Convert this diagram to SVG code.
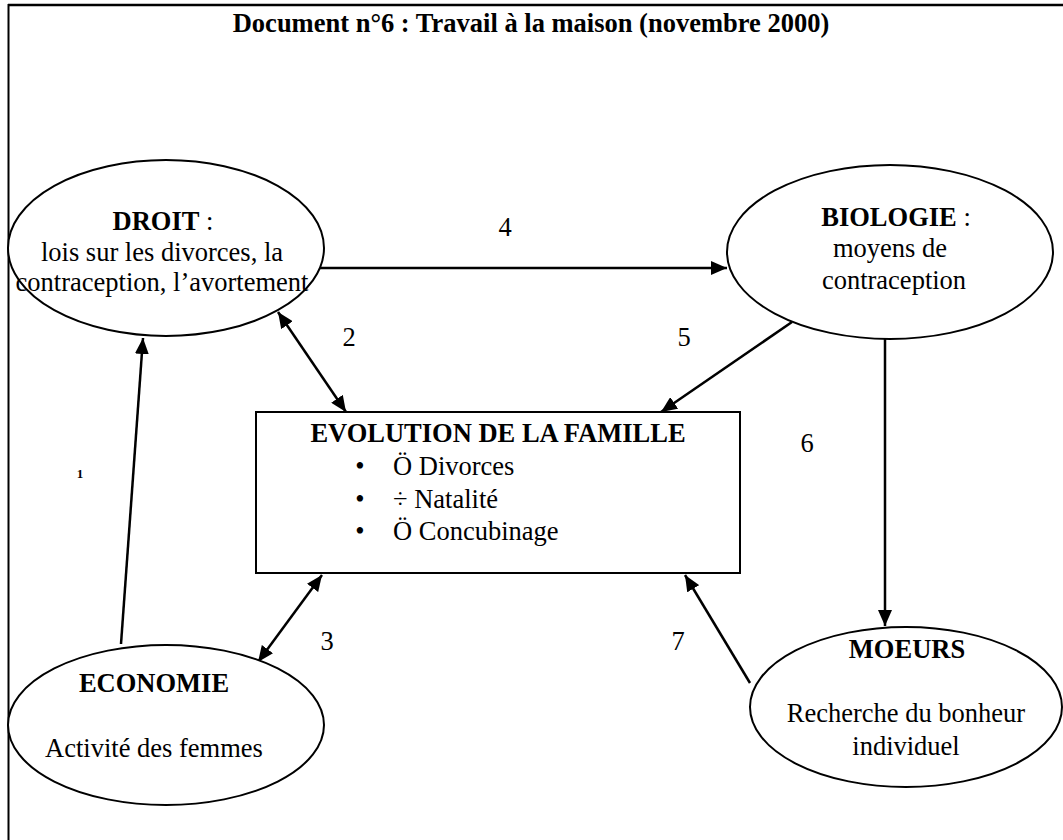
<svg xmlns="http://www.w3.org/2000/svg" width="1063" height="840" viewBox="0 0 1063 840">
  <style>
    .t { font-family: "Liberation Serif", "Times New Roman", serif; font-size: 26.5px; fill: #000; }
    .b { font-weight: bold; }
    .shape { fill: #fff; stroke: #000; stroke-width: 2; }
    .link { fill: none; stroke: #000; stroke-width: 2.5; }
    .frame { stroke: #000; fill: none; }
  </style>
  <defs>
    <marker id="head" viewBox="0 0 16 14" refX="16" refY="7" markerWidth="16" markerHeight="14" markerUnits="userSpaceOnUse" orient="auto-start-reverse">
      <path d="M0,0 L16,7 L0,14 z" fill="#000"/>
    </marker>
  </defs>
  <rect width="1063" height="840" fill="#fff"/>

  <!-- page frame -->
  <g id="frame">
    <line class="frame" x1="8" y1="5" x2="1063" y2="5" stroke-width="2.5"/>
    <line class="frame" x1="8.5" y1="4" x2="8.5" y2="840" stroke-width="2"/>
  </g>

  <text id="title" class="t b" x="531" y="32" text-anchor="middle">Document n°6 : Travail à la maison (novembre 2000)</text>

  <!-- connectors -->
  <g id="connectors">
    <line class="link" x1="315" y1="268" x2="727" y2="268" marker-end="url(#head)"/>
    <line class="link" x1="278" y1="312" x2="346" y2="412" marker-start="url(#head)" marker-end="url(#head)"/>
    <line class="link" x1="792" y1="322" x2="661" y2="412" marker-end="url(#head)"/>
    <line class="link" x1="885" y1="338" x2="885" y2="626" marker-end="url(#head)"/>
    <line class="link" x1="750" y1="683" x2="685" y2="575" marker-end="url(#head)"/>
    <line class="link" x1="322" y1="575" x2="258" y2="662" marker-start="url(#head)" marker-end="url(#head)"/>
    <line class="link" x1="121" y1="644" x2="143" y2="338" marker-end="url(#head)"/>
    <text class="t" x="505" y="236" text-anchor="middle">4</text>
    <text class="t" x="349" y="346" text-anchor="middle">2</text>
    <text class="t" x="684" y="346" text-anchor="middle">5</text>
    <text class="t" x="807" y="452" text-anchor="middle">6</text>
    <text class="t" x="327" y="650" text-anchor="middle">3</text>
    <text class="t" x="678" y="650" text-anchor="middle">7</text>
    <text class="t b" x="80" y="478" text-anchor="middle" style="font-size:13px">1</text>
  </g>

  <g id="droit">
    <ellipse class="shape" cx="166" cy="248" rx="158" ry="88" stroke-width="1.6"/>
    <text class="t" x="163" y="230" text-anchor="middle"><tspan class="b">DROIT</tspan> :</text>
    <text class="t" x="162" y="261" text-anchor="middle">lois sur les divorces, la</text>
    <text class="t" x="162" y="291" text-anchor="middle">contraception, l’avortement</text>
  </g>

  <g id="biologie">
    <ellipse class="shape" cx="890" cy="252" rx="163" ry="87" stroke-width="2.5"/>
    <text class="t" x="896" y="226" text-anchor="middle"><tspan class="b">BIOLOGIE</tspan> :</text>
    <text class="t" x="890" y="257" text-anchor="middle">moyens de</text>
    <text class="t" x="894" y="289" text-anchor="middle">contraception</text>
  </g>

  <g id="famille">
    <rect class="shape" x="256" y="412" width="484" height="161"/>
    <text class="t b" x="498" y="442" text-anchor="middle">EVOLUTION DE LA FAMILLE</text>
    <text class="t" x="360" y="475" text-anchor="middle">•</text>
    <text class="t" x="393" y="475">Ö Divorces</text>
    <text class="t" x="360" y="508" text-anchor="middle">•</text>
    <text class="t" x="393" y="508">÷  Natalité</text>
    <text class="t" x="360" y="540" text-anchor="middle">•</text>
    <text class="t" x="393" y="540">Ö Concubinage</text>
  </g>

  <g id="economie">
    <ellipse class="shape" cx="166" cy="725" rx="158" ry="80" stroke-width="1.6"/>
    <text class="t b" x="154" y="692" text-anchor="middle">ECONOMIE</text>
    <text class="t" x="154" y="757" text-anchor="middle">Activité des femmes</text>
  </g>

  <g id="moeurs">
    <ellipse class="shape" cx="906" cy="707" rx="156" ry="80" stroke-width="1.6"/>
    <text class="t b" x="907" y="658" text-anchor="middle">MOEURS</text>
    <text class="t" x="906" y="722" text-anchor="middle">Recherche du bonheur</text>
    <text class="t" x="906" y="755" text-anchor="middle">individuel</text>
  </g>
</svg>
